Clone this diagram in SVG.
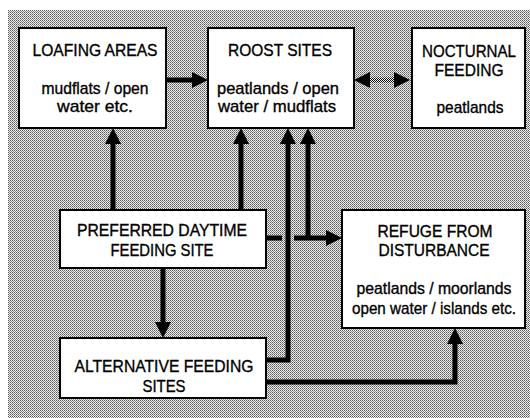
<svg xmlns="http://www.w3.org/2000/svg" width="530" height="418" viewBox="0 0 530 418">
<defs>
<pattern id="dither" width="2" height="2" patternUnits="userSpaceOnUse">
<rect width="2" height="2" fill="#ececec"/>
<rect x="0" y="0" width="1" height="1" fill="#5a5a5a"/>
<rect x="1" y="1" width="1" height="1" fill="#8a8a8a"/>
</pattern>
<pattern id="checker" width="2" height="2" patternUnits="userSpaceOnUse">
<rect width="2" height="2" fill="#ffffff"/>
<rect x="0" y="0" width="1" height="1" fill="#000"/>
<rect x="1" y="1" width="1" height="1" fill="#000"/>
</pattern>
<marker id="ah" markerUnits="userSpaceOnUse" markerWidth="16" markerHeight="16" refX="4" refY="8" orient="auto-start-reverse">
<path d="M0,0 L16,8 L0,16 z" fill="#000"/>
</marker>
<style>
.box{fill:#fff;stroke:#000;stroke-width:2}
.t{font-family:"Liberation Sans",Arial,Helvetica,sans-serif;font-size:17px;fill:#000;stroke:#000;stroke-width:0.35;text-anchor:middle}
.c{fill:none;stroke:#000;stroke-width:5;stroke-linejoin:miter}
</style>
</defs>
<rect x="8" y="10" width="522" height="408" fill="url(#dither)"/>
<g id="connectors">
<path class="c" d="M166,80 H196" marker-end="url(#ah)"/>
<path class="c" d="M366,80 H398" style="stroke:url(#checker)" marker-start="url(#ah)" marker-end="url(#ah)"/>
<path class="c" d="M113,210 V140" marker-end="url(#ah)"/>
<path class="c" d="M241,210 V140" marker-end="url(#ah)"/>
<path class="c" d="M266,360 H288 V140" marker-end="url(#ah)"/>
<path class="c" d="M266,238 H282 M294,238 H330" marker-end="url(#ah)"/>
<path class="c" d="M308,238 V140" marker-end="url(#ah)"/>
<path class="c" d="M163,268 V326" marker-end="url(#ah)"/>
<path class="c" d="M266,382 H455 V340" marker-end="url(#ah)"/>
</g>
<g id="loafing">
<rect class="box" x="19" y="28" width="147" height="100"/>
<text class="t" x="95" y="56" textLength="125" lengthAdjust="spacingAndGlyphs">LOAFING AREAS</text>
<text class="t" x="95" y="94" textLength="107" lengthAdjust="spacingAndGlyphs">mudflats / open</text>
<text class="t" x="95" y="112" textLength="76" lengthAdjust="spacingAndGlyphs">water etc.</text>
</g>
<g id="roost">
<rect class="box" x="208" y="28" width="146" height="100"/>
<text class="t" x="280" y="56" textLength="104" lengthAdjust="spacingAndGlyphs">ROOST SITES</text>
<text class="t" x="278" y="94" textLength="122" lengthAdjust="spacingAndGlyphs">peatlands / open</text>
<text class="t" x="277" y="112" textLength="118" lengthAdjust="spacingAndGlyphs">water / mudflats</text>
</g>
<g id="nocturnal">
<rect class="box" x="412" y="28" width="113" height="100"/>
<text class="t" x="469" y="57" textLength="94" lengthAdjust="spacingAndGlyphs">NOCTURNAL</text>
<text class="t" x="469" y="76" textLength="69" lengthAdjust="spacingAndGlyphs">FEEDING</text>
<text class="t" x="470" y="113" textLength="67" lengthAdjust="spacingAndGlyphs">peatlands</text>
</g>
<g id="preferred">
<rect class="box" x="60" y="210" width="206" height="58"/>
<text class="t" x="162" y="236" textLength="170" lengthAdjust="spacingAndGlyphs">PREFERRED DAYTIME</text>
<text class="t" x="162" y="256" textLength="103" lengthAdjust="spacingAndGlyphs">FEEDING SITE</text>
</g>
<g id="alternative">
<rect class="box" x="60" y="338" width="206" height="60"/>
<text class="t" x="164" y="372" textLength="179" lengthAdjust="spacingAndGlyphs">ALTERNATIVE FEEDING</text>
<text class="t" x="164" y="392" textLength="43" lengthAdjust="spacingAndGlyphs">SITES</text>
</g>
<g id="refuge">
<rect class="box" x="342" y="210" width="183" height="118"/>
<text class="t" x="435" y="237" textLength="115" lengthAdjust="spacingAndGlyphs">REFUGE FROM</text>
<text class="t" x="434" y="256" textLength="111" lengthAdjust="spacingAndGlyphs">DISTURBANCE</text>
<text class="t" x="434" y="294" textLength="155" lengthAdjust="spacingAndGlyphs">peatlands / moorlands</text>
<text class="t" x="434" y="314" textLength="164" lengthAdjust="spacingAndGlyphs">open water / islands etc.</text>
</g>
</svg>
